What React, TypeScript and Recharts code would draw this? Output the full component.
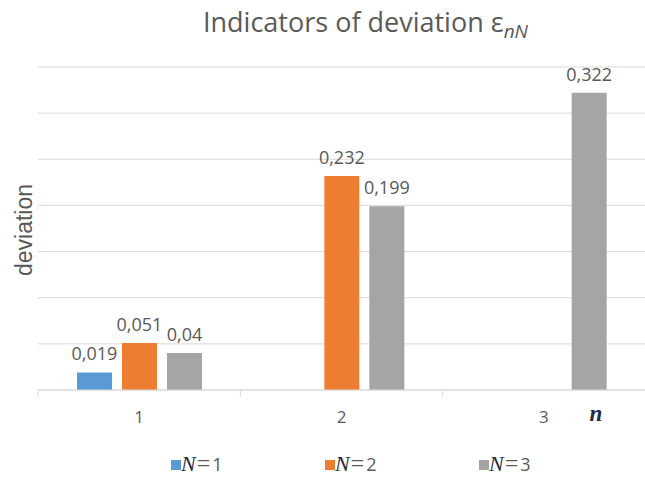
import React from 'react';
import { BarChart, Bar, XAxis, YAxis, CartesianGrid, LabelList } from 'recharts';

// categories (n) and series values (N = 1..3), null = no bar
const categories = ['1', '2', '3'];
const seriesN1 = [0.019, null, null];
const seriesN2 = [0.051, 0.232, null];
const seriesN3 = [0.04, 0.199, 0.322];
const yTicks = [0, 0.05, 0.1, 0.15, 0.2, 0.25, 0.3, 0.35];

const seriesInfo = [
  { key: 'n1', label: '1', color: '#5B9BD5', values: seriesN1 },
  { key: 'n2', label: '2', color: '#ED7D31', values: seriesN2 },
  { key: 'n3', label: '3', color: '#A5A5A5', values: seriesN3 },
];

const data = categories.map((c, i) => {
  const row: Record<string, any> = { name: c };
  seriesInfo.forEach((s) => { row[s.key] = s.values[i]; });
  return row;
});

const W = 645;
const H = 477;
const grey = '#595959';

const fmt = (v: any) => (v == null ? '' : String(v).replace('.', ','));

function CategoryTick(props: any) {
  const { x, y, payload, width } = props;
  const half = width ? width / categories.length / 2 : 0;
  return (
    <g>
      <line x1={x - half} y1={y} x2={x - half} y2={y + 7} stroke="#d9d9d9" />
      <text x={x} y={y + 33} textAnchor="middle" fill={grey} fontSize={17} fontFamily="Open Sans">
        {payload.value}
      </text>
    </g>
  );
}

export default function App() {
  return (
    <div style={{ position: 'absolute', left: 0, top: 0, width: W, height: H, background: '#fff' }}>
      <BarChart
        width={W}
        height={H}
        data={data}
        margin={{ top: 67, right: 0, left: 38, bottom: 57 }}
        barSize={35}
        barGap={10}
      >
        <CartesianGrid vertical={false} stroke="#d9d9d9" />
        <YAxis hide domain={[0, 0.35]} ticks={yTicks} />
        <XAxis
          dataKey="name"
          height={30}
          tickSize={0}
          tickMargin={0}
          tickLine={false}
          axisLine={{ stroke: '#d9d9d9' }}
          tick={<CategoryTick />}
        />
        {seriesInfo.map((s) => (
          <Bar key={s.key} dataKey={s.key} fill={s.color} isAnimationActive={false}>
            <LabelList
              dataKey={s.key}
              position="top"
              offset={12}
              formatter={fmt}
              fill={grey}
              fontSize={18}
              fontFamily="Open Sans"
            />
          </Bar>
        ))}
      </BarChart>
      <svg width={W} height={H} style={{ position: 'absolute', left: 0, top: 0, pointerEvents: 'none' }}>
        <text x={203} y={32} fontFamily="Open Sans" fontSize={27} fill={grey}>
          Indicators of deviation ε
          <tspan fontStyle="italic" fontSize={19} dy={6}>nN</tspan>
        </text>
        <text
          x={32}
          y={230}
          transform="rotate(-90 32 230)"
          textAnchor="middle"
          fontFamily="Liberation Sans"
          fontSize={23}
          fill={grey}
        >
          deviation
        </text>
        <text x={596} y={421} textAnchor="middle" fontFamily="Liberation Serif" fontStyle="italic" fontWeight="bold" fontSize={23} fill="#1f2a44">
          n
        </text>
        {seriesInfo.map((s, i) => {
          const lx = 171 + i * 154;
          return (
            <g key={s.key}>
              <rect x={lx} y={460} width={10} height={10} fill={s.color} />
              <text x={lx + 10} y={471} fontSize={18} fill={grey}>
                <tspan fontFamily="Liberation Serif" fontStyle="italic" fontSize={22} fill="#1f2a44">N</tspan>
                <tspan fontFamily="Liberation Serif" fontSize={24} dx={1}>=</tspan>
                <tspan fontFamily="Open Sans" dx={2}>{s.label}</tspan>
              </text>
            </g>
          );
        })}
      </svg>
    </div>
  );
}
